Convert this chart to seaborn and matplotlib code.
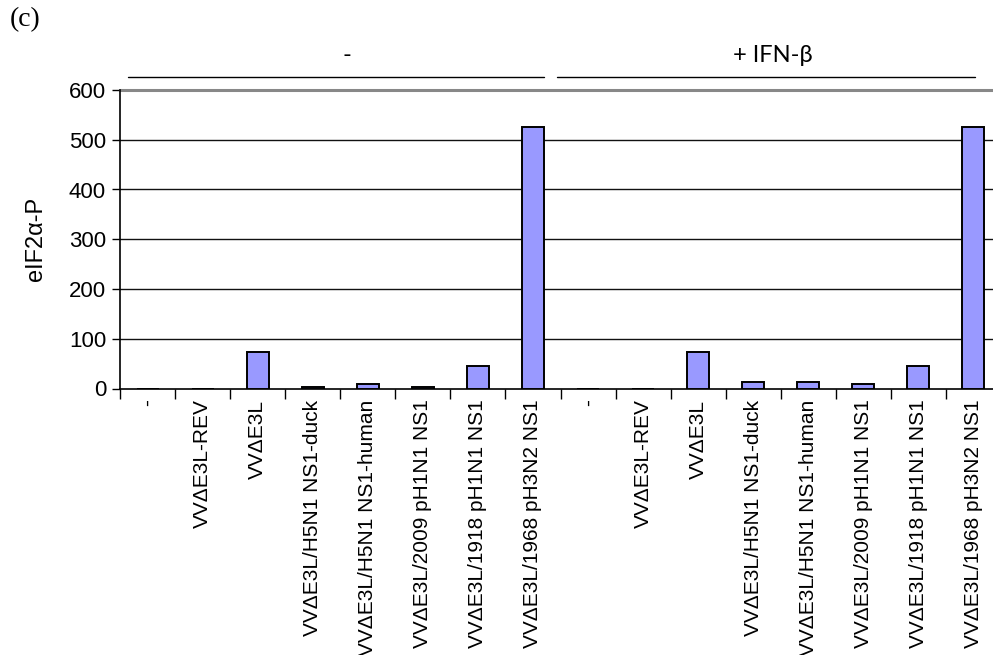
import matplotlib
matplotlib.use("Agg")
import matplotlib.pyplot as plt
import matplotlib.transforms as mtransforms
import seaborn as sns
import pandas as pd
import numpy as np

# Virus constructs, shown once without and once with IFN-beta pretreatment
constructs = [
    "-",
    "VVΔE3L-REV",
    "VVΔE3L",
    "VVΔE3L/H5N1 NS1-duck",
    "VVΔE3L/H5N1 NS1-human",
    "VVΔE3L/2009 pH1N1 NS1",
    "VVΔE3L/1918 pH1N1 NS1",
    "VVΔE3L/1968 pH3N2 NS1",
]
groups = ["-", "+ IFN-β"]

# eIF2α phosphorylation signal per construct
values_untreated = [0, 0, 73, 4, 9, 4, 46, 525]
values_ifn = [0, 0, 73, 13, 13, 9, 46, 525]

y_ticks = [0, 100, 200, 300, 400, 500, 600]

labels = constructs + constructs
values = values_untreated + values_ifn
df = pd.DataFrame({"pos": np.arange(len(values)), "value": values})

sns.set_theme(style="white")
plt.rcParams["font.family"] = ["Liberation Sans", "DejaVu Sans"]
plt.rcParams.update({
    "text.color": "black",
    "axes.labelcolor": "black",
    "xtick.color": "black",
    "ytick.color": "black",
})

fig = plt.figure(figsize=(9.93, 6.55), dpi=100)
ax = fig.add_axes([120 / 993, 1 - 388.5 / 655, 881 / 993, 298.5 / 655])

sns.barplot(data=df, x="pos", y="value", color="#9999FF", saturation=1,
            width=0.4, edgecolor="black", linewidth=1.4, ax=ax, zorder=3)

n = len(values)
ax.set_xlim(-0.5, n - 0.5)
ax.set_ylim(0, 600)
ax.set_yticks(y_ticks)
ax.set_yticklabels([str(t) for t in y_ticks], fontsize=16,
                   family=["Liberation Sans", "DejaVu Sans"])

# category labels centred, tick marks on category boundaries
ax.set_xticks(np.arange(n) - 0.5)
ax.set_xticklabels([])
ax.set_xticks(np.arange(n), minor=True)
ax.set_xticklabels(labels, minor=True, rotation=90, fontsize=15, va="top",
                   family=["Liberation Sans", "DejaVu Sans"])
ax.tick_params(axis="x", which="major", direction="out", length=7, width=1,
               color="black", bottom=True)
ax.tick_params(axis="x", which="minor", length=0, pad=8)
ax.tick_params(axis="y", direction="out", length=6, width=1, color="black",
               left=True, pad=4)

for t in y_ticks[1:-1]:
    ax.axhline(t, color="#111111", lw=1.0, zorder=1)
ax.axhline(600, color="#888888", lw=2.2, zorder=1, clip_on=False)

for side in ["top", "right"]:
    ax.spines[side].set_visible(False)
ax.spines["left"].set_color("black")
ax.spines["left"].set_linewidth(1.2)
ax.spines["bottom"].set_color("black")
ax.spines["bottom"].set_linewidth(1.2)

ax.set_xlabel("")
ax.set_ylabel("eIF2α-P", fontsize=17, labelpad=16,
              family=["Liberation Sans", "DejaVu Sans"])

# group headers with bracket lines
trans = mtransforms.blended_transform_factory(ax.transData, ax.transAxes)
spans = [(-0.35, 7.2), (7.43, 15.02)]
centers = [3.62, 11.35]
for g, (x0, x1), xc in zip(groups, spans, centers):
    ax.plot([x0, x1], [1.044, 1.044], color="black", lw=1.0,
            transform=trans, clip_on=False)
    ax.text(xc, 1.08, g, transform=trans, ha="center", va="bottom",
            fontsize=17, family=["Lato", "DejaVu Sans"])

fig.text(10 / 993, 1 - 20 / 655, "(c)", fontsize=20,
         family=["Liberation Serif", "DejaVu Serif"], va="center", ha="left")

fig.savefig("out.png", dpi=100)
